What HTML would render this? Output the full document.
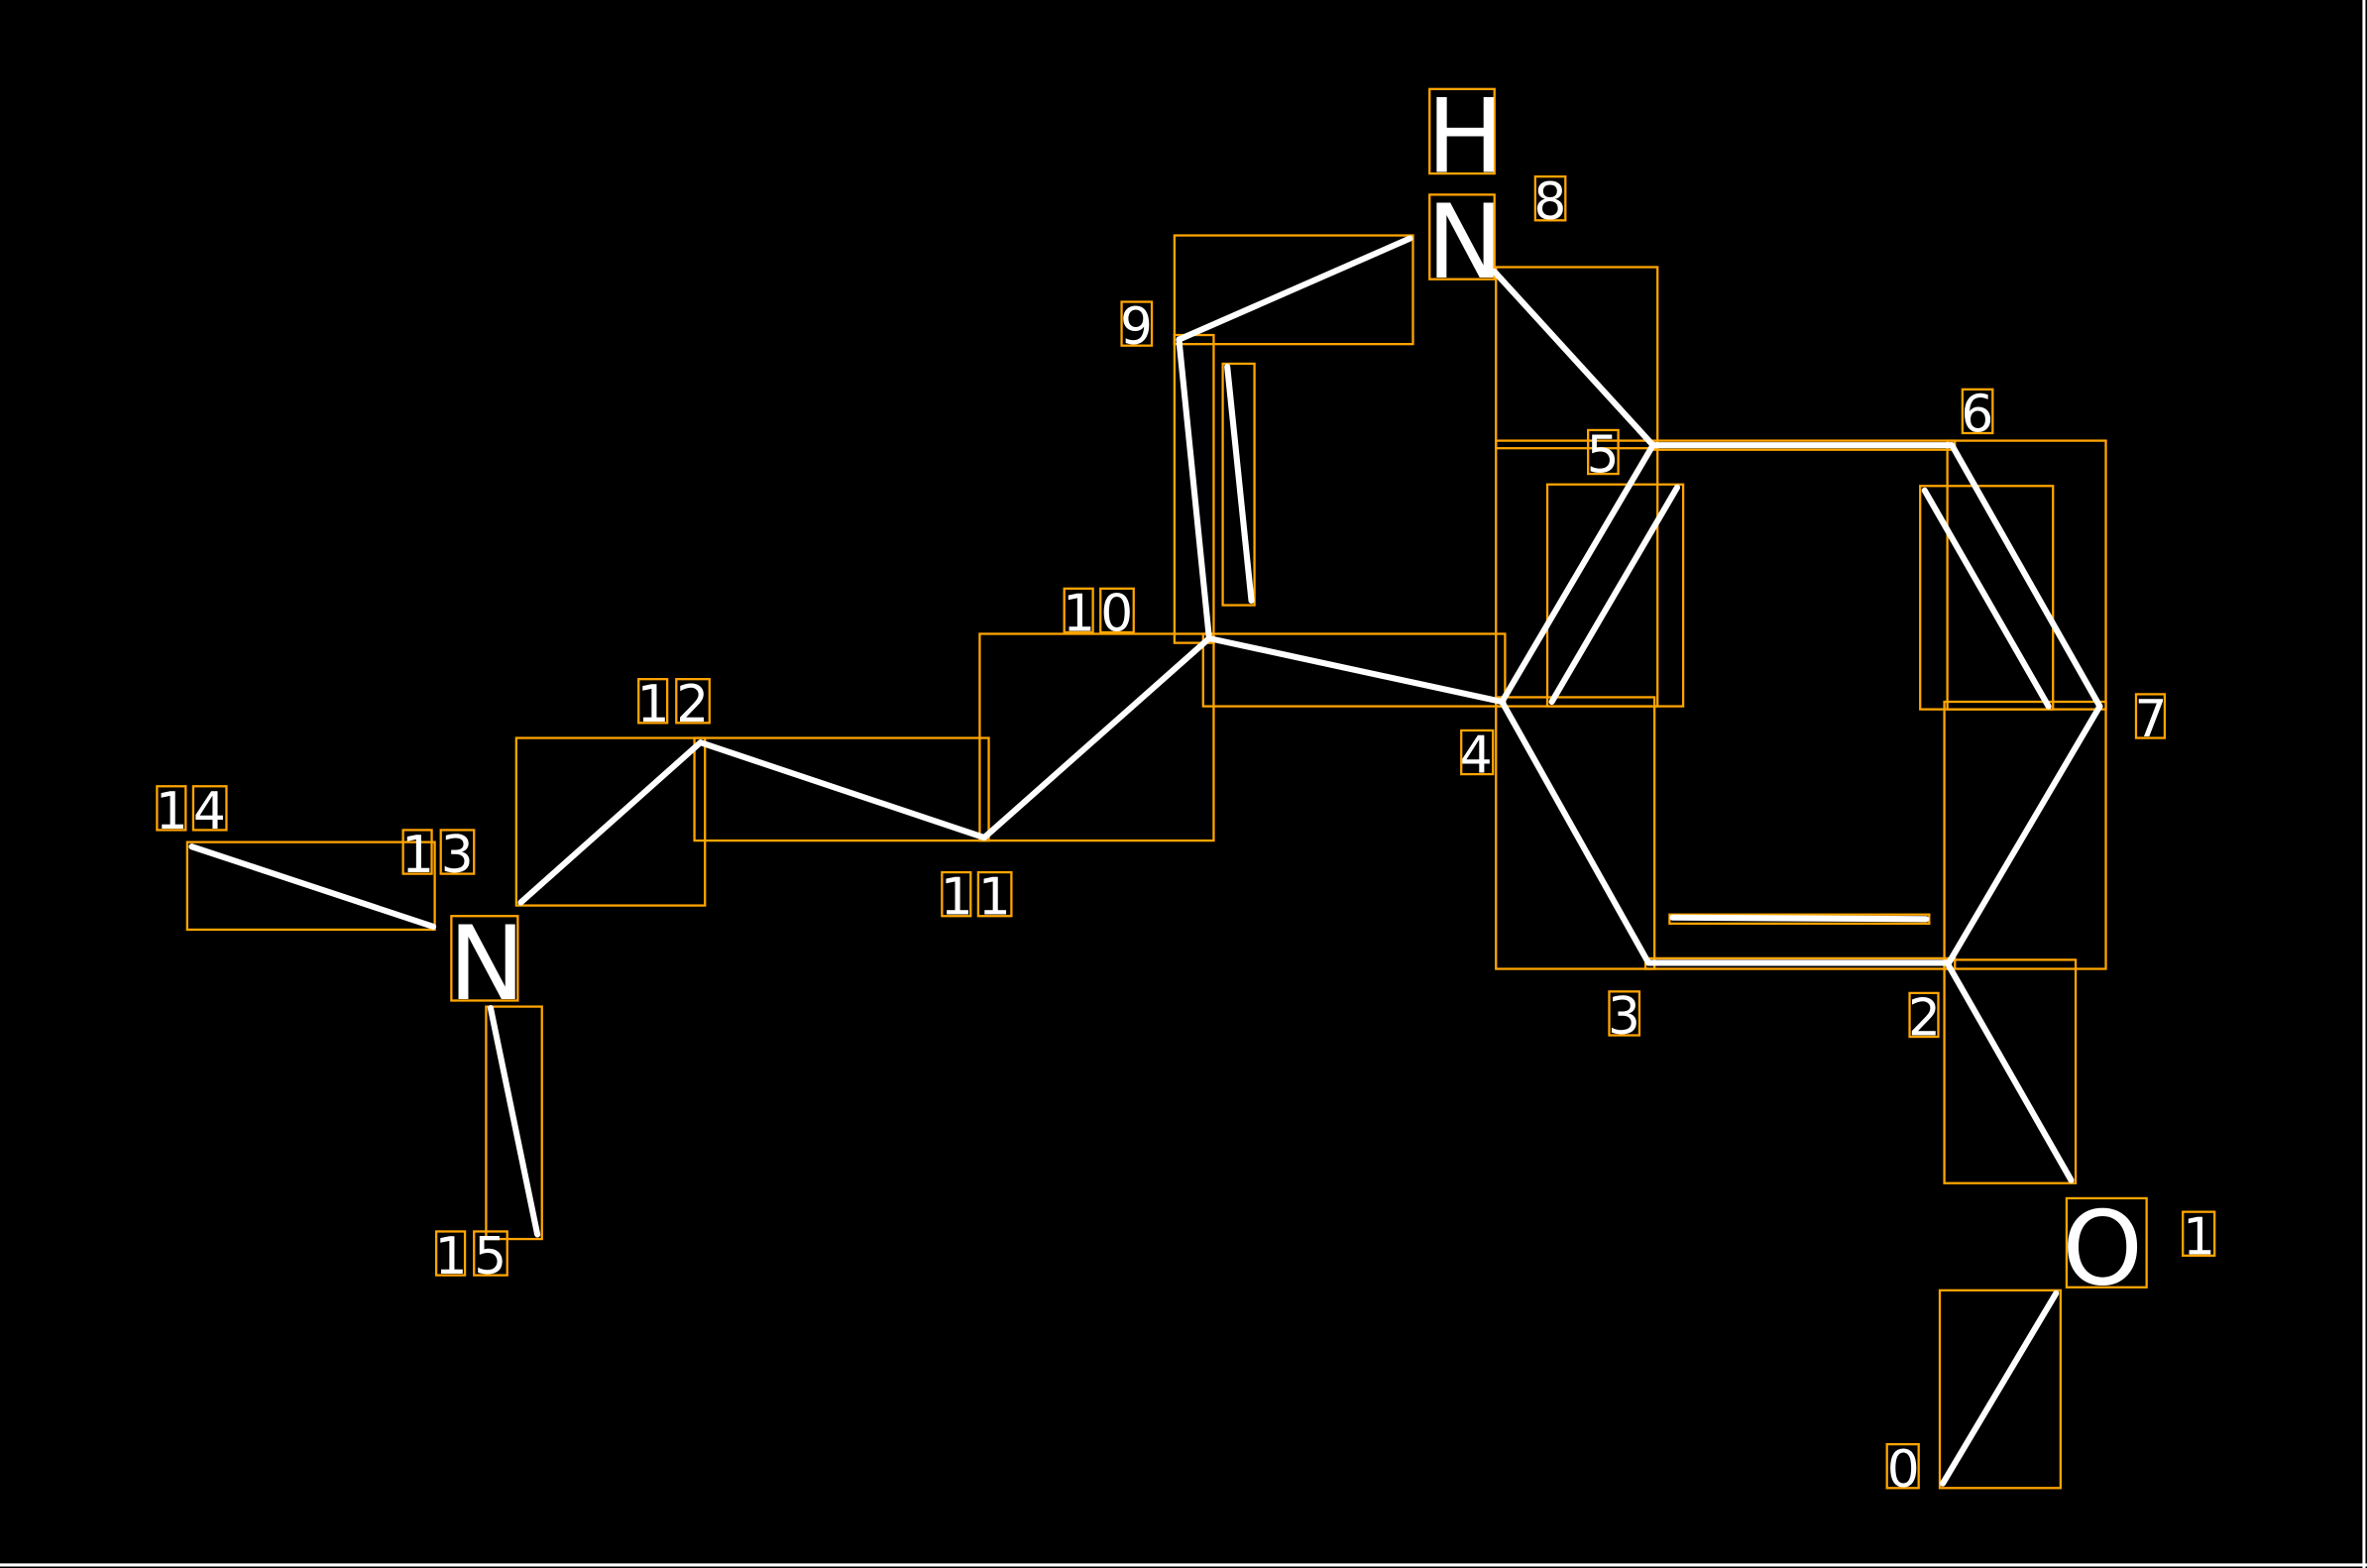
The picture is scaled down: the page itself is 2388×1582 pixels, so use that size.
<!DOCTYPE html>
<html><head><meta charset="utf-8"><style>
html,body{margin:0;padding:0;background:#000;width:2388px;height:1582px;overflow:hidden}
svg{display:block}
text{font-family:"DejaVu Sans","Liberation Sans",sans-serif;fill:#fff}
</style></head><body>
<svg width="2388" height="1582" viewBox="0 0 1568 1039" xmlns="http://www.w3.org/2000/svg" preserveAspectRatio="none">
<rect x="0" y="0" width="1568" height="1039" fill="#000"/>
<line x1="1566" y1="0" x2="1566" y2="1039" stroke="#fff" stroke-width="2"/>
<line x1="0" y1="1037" x2="1568" y2="1037" stroke="#fff" stroke-width="2"/>
<g fill="none" stroke="#ffa500" stroke-width="1.5">
<rect x="1285" y="855" width="80" height="131"/>
<rect x="1369" y="794" width="53" height="59"/>
<rect x="1288" y="636" width="87" height="148"/>
<rect x="1288" y="465" width="107" height="177"/>
<rect x="1090" y="635" width="205" height="7"/>
<rect x="1106" y="606" width="172" height="6"/>
<rect x="991" y="462" width="105" height="180"/>
<rect x="1272" y="322" width="88" height="148"/>
<rect x="1290" y="292" width="105" height="178"/>
<rect x="991" y="292" width="107" height="176"/>
<rect x="1025" y="321" width="90" height="147"/>
<rect x="991" y="177" width="107" height="120"/>
<rect x="1095" y="292" width="200" height="6"/>
<rect x="778" y="156" width="158" height="72"/>
<rect x="778" y="222" width="26" height="204"/>
<rect x="810" y="241" width="21" height="160"/>
<rect x="797" y="420" width="200" height="48"/>
<rect x="649" y="420" width="155" height="137"/>
<rect x="460" y="489" width="195" height="68"/>
<rect x="342" y="489" width="125" height="111"/>
<rect x="124" y="558" width="164" height="58"/>
<rect x="322" y="667" width="37" height="154"/>
<rect x="947" y="129" width="43" height="56"/>
<rect x="947" y="59" width="43" height="56"/>
<rect x="299" y="607" width="44" height="56"/>
<!-- label boxes -->
<rect x="1250" y="957" width="21" height="29"/>
<rect x="1446" y="803" width="21" height="29"/>
<rect x="1265" y="658" width="19" height="29"/>
<rect x="1066" y="657" width="20" height="29"/>
<rect x="968" y="484" width="21" height="29"/>
<rect x="1052" y="285" width="20" height="29"/>
<rect x="1300" y="258" width="20" height="29"/>
<rect x="1415" y="460" width="19" height="29"/>
<rect x="1017" y="117" width="20" height="29"/>
<rect x="743" y="200" width="20" height="29"/>
<rect x="705" y="390" width="19" height="29"/><rect x="729" y="390" width="22" height="29"/>
<rect x="624" y="578" width="19" height="29"/><rect x="648" y="578" width="22" height="29"/>
<rect x="423" y="450" width="19" height="29"/><rect x="448" y="450" width="22" height="29"/>
<rect x="267" y="550" width="19" height="29"/><rect x="292" y="550" width="22" height="29"/>
<rect x="104" y="521" width="19" height="29"/><rect x="128" y="521" width="22" height="29"/>
<rect x="289" y="816" width="19" height="29"/><rect x="314" y="816" width="22" height="29"/>
</g>
<g stroke="#fff" stroke-width="4" stroke-linecap="round">
<line x1="1287" y1="983" x2="1362" y2="857"/>
<line x1="1291" y1="640" x2="1372" y2="782"/>
<line x1="1092" y1="638" x2="1291" y2="638"/>
<line x1="1108" y1="608" x2="1276" y2="609"/>
<line x1="995" y1="465" x2="1092" y2="638"/>
<line x1="1291" y1="638" x2="1391" y2="468"/>
<line x1="1391" y1="468" x2="1293" y2="295"/>
<line x1="1275" y1="325" x2="1357" y2="468"/>
<line x1="1095" y1="295" x2="1293" y2="295"/>
<line x1="1095" y1="295" x2="995" y2="465"/>
<line x1="1111" y1="323" x2="1028" y2="465"/>
<line x1="1095" y1="295" x2="990" y2="180"/>
<line x1="934" y1="158" x2="781" y2="225"/>
<line x1="781" y1="225" x2="801" y2="423"/>
<line x1="813" y1="243" x2="829" y2="398"/>
<line x1="801" y1="423" x2="995" y2="465"/>
<line x1="801" y1="423" x2="652" y2="555"/>
<line x1="652" y1="555" x2="464" y2="492"/>
<line x1="464" y1="492" x2="345" y2="598"/>
<line x1="287" y1="614" x2="127" y2="561"/>
<line x1="325" y1="668" x2="356" y2="818"/>
</g>
<g font-size="68">
<text x="945" y="114">H</text>
<text x="945" y="184">N</text>
<text x="297" y="662">N</text>
<text x="1366" y="851">O</text>
</g>
<g font-size="34">
<text x="1250" y="985">0</text>
<text x="1446" y="831">1</text>
<text x="1264" y="686">2</text>
<text x="1065" y="685">3</text>
<text x="967" y="512">4</text>
<text x="1051" y="313">5</text>
<text x="1299" y="286">6</text>
<text x="1414" y="488">7</text>
<text x="1016" y="145">8</text>
<text x="742" y="228">9</text>
<text x="704" y="418">1</text><text x="729" y="418">0</text>
<text x="623" y="606">1</text><text x="648" y="606">1</text>
<text x="422" y="478">1</text><text x="448" y="478">2</text>
<text x="266" y="578">1</text><text x="292" y="578">3</text>
<text x="103" y="549">1</text><text x="128" y="549">4</text>
<text x="288" y="844">1</text><text x="314" y="844">5</text>
</g>
</svg>
</body></html>
